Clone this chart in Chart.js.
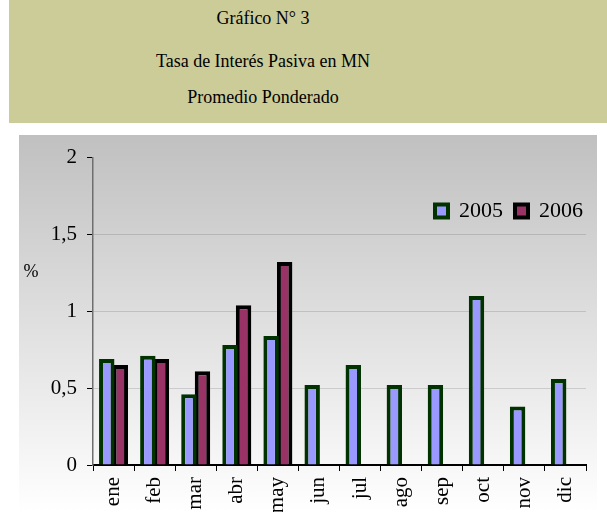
<!DOCTYPE html>
<html><head><meta charset="utf-8">
<script src="https://cdn.jsdelivr.net/npm/chart.js@4/dist/chart.umd.min.js"></script>
<style>
html,body{margin:0;padding:0;background:#fff;width:607px;height:521px;overflow:hidden;}
#hdr{position:absolute;left:9px;top:0;width:598px;height:123px;background:#cccc99;}
.t{position:absolute;left:-9px;width:526px;text-align:center;font-family:'Liberation Serif','Times New Roman',serif;font-size:18px;color:#000;line-height:20px;white-space:nowrap;}
#box{position:absolute;left:19px;top:135px;width:578px;height:377px;background:linear-gradient(#c0c0c0,#ffffff);}
</style></head>
<body>
<div id="hdr">
  <div class="t" style="top:8px">Gráfico N° 3</div>
  <div class="t" style="top:51px">Tasa de Interés Pasiva en MN</div>
  <div class="t" style="top:87px">Promedio Ponderado</div>
</div>
<div id="box"><canvas id="c"></canvas></div>
<script>
const months = ['ene','feb','mar','abr','may','jun','jul','ago','sep','oct','nov','dic'];
const series2005 = [0.69, 0.71, 0.46, 0.78, 0.84, 0.52, 0.65, 0.52, 0.52, 1.10, 0.38, 0.56];
const series2006 = [0.65, 0.69, 0.61, 1.04, 1.32, null, null, null, null, null, null, null];
const yTickLabels = ['0', '0,5', '1', '1,5', '2'];
const yUnit = '%';

const SERIF = "'Liberation Serif','Times New Roman',serif";

const extras = {
  id: 'extras',
  afterLayout(chart) {
    const lg = chart.legend;
    if (lg) {
      lg.left = 0; lg.right = 576; lg.width = 576;
      lg.top = 53; lg.height = 40; lg.bottom = 93;
    }
  },
  afterDraw(chart) {
    const ctx = chart.ctx;
    ctx.save();
    ctx.font = '18px ' + SERIF;
    ctx.fillStyle = '#000';
    ctx.textAlign = 'center';
    ctx.textBaseline = 'middle';
    ctx.fillText(yUnit, 12, 137);
    ctx.restore();
  }
};

new Chart(document.getElementById('c'), {
  type: 'bar',
  data: {
    labels: months,
    datasets: [
      { label: '2005', data: series2005, backgroundColor: '#9999ff', borderColor: '#003300', borderWidth: 4 },
      { label: '2006', data: series2006, backgroundColor: '#993366', borderColor: '#000000', borderWidth: 4 }
    ]
  },
  options: {
    responsive: true,
    maintainAspectRatio: false,
    animation: false,
    layout: { padding: { top: 19, right: 8, left: 0, bottom: 0 } },
    datasets: { bar: { categoryPercentage: 0.66, barPercentage: 1.14 } },
    plugins: {
      title: { display: false },
      tooltip: { enabled: false },
      legend: {
        position: 'top',
        align: 'end',
        maxHeight: 1,
        labels: {
          boxWidth: 13, boxHeight: 13, padding: 12, color: '#000',
          font: { family: SERIF, size: 22 }
        }
      }
    },
    scales: {
      x: {
        afterFit(s) { s.height = 47; },
        grid: { display: true, drawOnChartArea: false, drawTicks: true, tickLength: 6, color: '#000', offset: true },
        border: { display: true, color: '#000', width: 2 },
        ticks: { minRotation: 90, maxRotation: 90, padding: 6, color: '#000', font: { family: SERIF, size: 21 } }
      },
      y: {
        min: 0, max: 2,
        afterFit(s) { s.width = 74; },
        grid: {
          color: (c) => (c.tick && c.tick.value === 2) ? 'rgba(0,0,0,0)' : 'rgba(0,0,0,0.13)',
          tickColor: '#000', tickLength: 6, lineWidth: 1
        },
        border: { display: true, color: '#6e6e6e', width: 1.5 },
        ticks: {
          stepSize: 0.5, padding: 10, color: '#000', font: { family: SERIF, size: 21 },
          callback: (v) => yTickLabels[Math.round(v / 0.5)]
        }
      }
    }
  },
  plugins: [extras]
});
</script>
</body></html>
